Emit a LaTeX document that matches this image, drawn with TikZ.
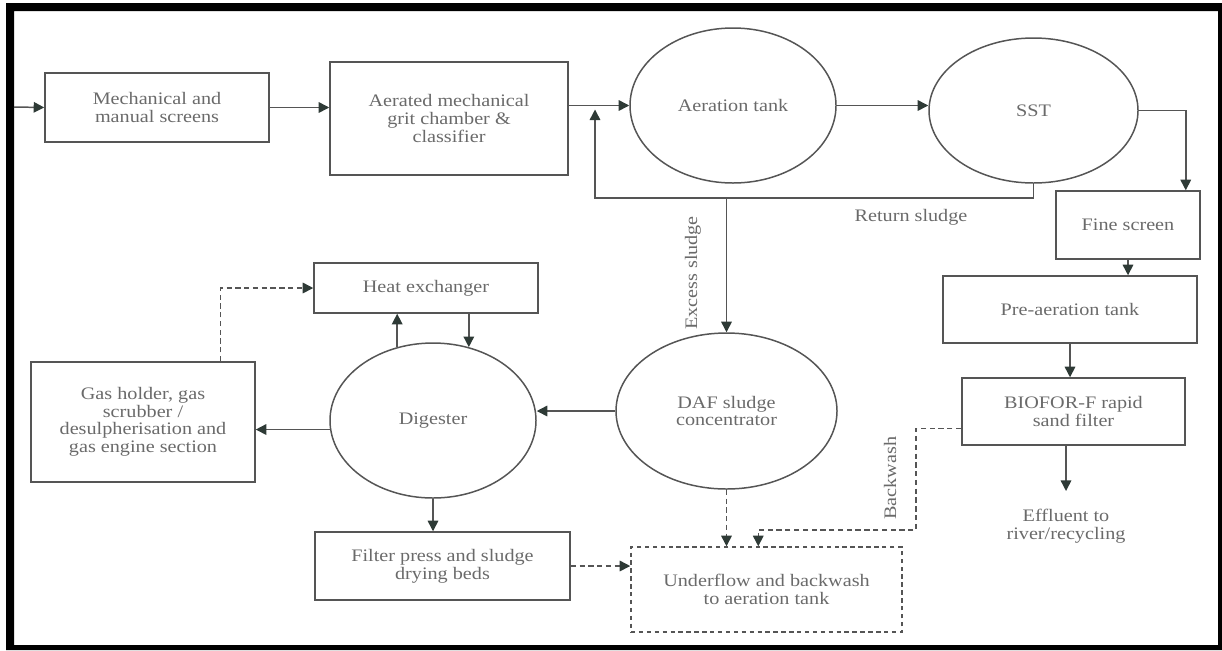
\documentclass[tikz,border=0pt]{standalone}
\usepackage{fontspec}
\setmainfont{Liberation Serif}[FakeStretch=1.15]
\usetikzlibrary{shapes.geometric,arrows.meta,calc,positioning}
\definecolor{ink}{HTML}{555555}
\definecolor{ink2}{HTML}{6A6A6A}
\definecolor{tipc}{HTML}{2E3A36}

\begin{document}
\begin{tikzpicture}[x=0.02cm,y=-0.02cm,
  every node/.style={font=\fontsize{10}{10}\selectfont,text=ink2,align=center},
  sz/.style 2 args={minimum width=#1*0.02cm,minimum height=#2*0.02cm},
  unit/.style={draw=ink,line width=0.85pt,inner sep=0pt},
  tank/.style={ellipse,draw=ink,line width=0.85pt,inner sep=0pt},
  flow/.style={draw=ink,line width=0.85pt,-{Triangle[length=6pt,width=6pt,color=tipc]}},
  back/.style={flow,dash pattern=on 3pt off 2pt}]
  % units are pixels of the 1222 x 650 sheet, y pointing down
  \useasboundingbox (0,0) rectangle (1222,650);
  \fill[black,even odd rule] (6,3) rectangle (1222,650) (14,11) rectangle (1218,645);
  % water line
  \node[unit,sz={224}{69}] (mech) at (157,107.5) {Mechanical and\\manual screens};
  \node[unit,sz={238}{113}] (grit) at (449,118.5) {Aerated mechanical\\grit chamber \&\\classifier};
  \node[tank,sz={206}{155}] (aer) at (733,105.5) {Aeration tank};
  \node[tank,sz={209}{145}] (sst) at (1033.5,110.5) {SST};
  \node[unit,sz={144}{68}] (fine) at (1128,225) {Fine screen};
  \node[unit,sz={254}{67}] (pre) at (1070,309.5) {Pre-aeration tank};
  \node[unit,sz={223}{67}] (bio) at (1073.5,411.5) {BIOFOR-F rapid\\sand filter};
  \node[outer ysep=7pt] (eff) at (1066,526) {Effluent to\\river/recycling};
  % sludge line
  \node[tank,sz={221}{156}] (daf) at (726.5,411) {DAF sludge\\concentrator};
  \node[unit,sz={271}{85},dash pattern=on 2.5pt off 2pt] (under) at (766.5,589.5) {Underflow and backwash\\to aeration tank};
  \node[unit,sz={224}{50}] (heat) at (426,288) {Heat exchanger};
  \node[tank,sz={206}{155}] (dig) at (433,420.5) {Digester};
  \node[unit,sz={224}{120}] (gas) at (143,422) {Gas holder, gas\\scrubber /\\desulpherisation and\\gas engine section};
  \node[unit,sz={255}{68}] (filt) at (442.5,566) {Filter press and sludge\\drying beds};
  % labels
  \node (retlbl) at (911,217) {Return sludge};
  \node[rotate=90] (exlbl) at (693,273) {Excess sludge};
  \node[rotate=90] (bwlbl) at (890,478) {Backwash};
  \coordinate (in) at (14,107);
  \coordinate (ret) at (595,198);
  \coordinate (bw) at (916,530);
  % connectors
  \draw[flow] (in) -- (mech.west);
  \draw[flow] (mech.east) -- (mech.east -| grit.west);
  \draw[flow] (aer.west -| grit.east) -- (aer.west);
  \draw[flow] (aer.east) -- (aer.east -| sst.west);
  \draw[flow] (sst.east) -| ($(fine.north east)+(-15,0)$);
  \draw[flow] (sst.south) |- (ret) -- ($(aer.west -| ret)+(0,4)$);
  \draw[flow] (daf.north |- ret) -- (daf.north);
  \draw[flow] (fine.south) -- (fine.south |- pre.north);
  \draw[flow] (pre.south) -- (pre.south |- bio.north);
  \draw[flow] (bio.south -| eff.north) -- (eff.north);
  \draw[flow] (daf.west) -- (daf.west -| dig.east);
  \draw[flow] (dig.185) -- (dig.185 -| gas.east);
  \draw[flow] (dig.116) -- (dig.116 |- heat.south);
  \draw[flow] (heat.south -| dig.64) -- (dig.64);
  \draw[flow] (dig.south) -- (dig.south |- filt.north);
  \draw[back] ($(gas.north east)+(-35,0)$) |- (heat.west);
  \draw[back] (filt.east) -- (filt.east -| under.west);
  \draw[back] (daf.south) -- (daf.south |- under.north);
  \draw[back] ($(bio.west)+(0,17)$) -| (bw) -| ($(under.north west)+(128,0)$);
\end{tikzpicture}
\end{document}
